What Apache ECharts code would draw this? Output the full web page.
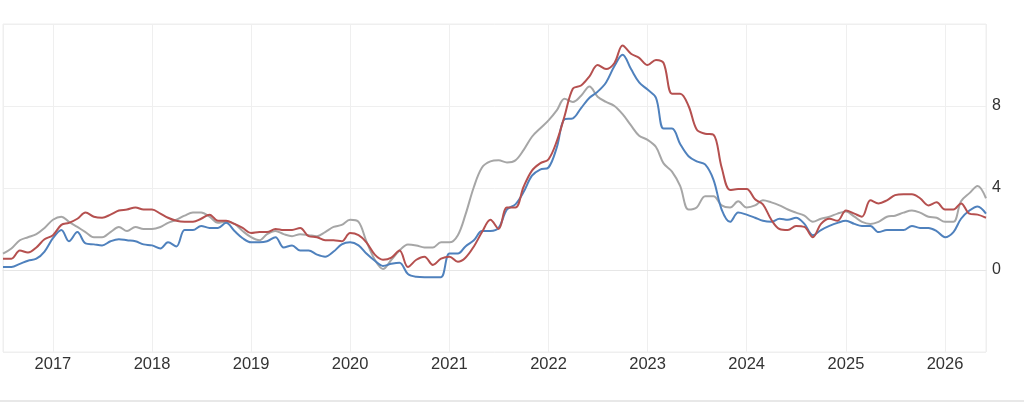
<!DOCTYPE html>
<html>
<head>
<meta charset="utf-8">
<script src="https://cdn.jsdelivr.net/npm/echarts@6/dist/echarts.min.js"></script>
<style>
html,body{margin:0;padding:0;background:#fff;}
#chart{width:1024px;height:403px;}
</style>
</head>
<body>
<div id="chart"></div>
<script>
// Monthly observations, July 2016 .. June 2026
var startYear = 2016, startMonth = 7;
var yTicks = [-4, 0, 4, 8, 12];

var blueSeries = [
  0.15, 0.15, 0.3, 0.45, 0.55, 0.9,
  1.55, 1.95, 1.4, 1.85, 1.3, 1.25, 1.2, 1.4, 1.5, 1.45, 1.4, 1.25,
  1.2, 1.05, 1.35, 1.15, 1.95, 1.95, 2.15, 2.05, 2.05, 2.3, 1.9, 1.55,
  1.35, 1.35, 1.4, 1.6, 1.1, 1.2, 0.95, 0.95, 0.75, 0.65, 0.9, 1.25,
  1.35, 1.2, 0.8, 0.45, 0.2, 0.3, 0.35, -0.2, -0.33, -0.35, -0.35, -0.35,
  0.8, 0.8, 1.15, 1.45, 1.9, 1.9, 2.05, 2.95, 3.2, 3.8, 4.6, 4.9,
  5.0, 6.0, 7.35, 7.4, 7.9, 8.4, 8.7, 9.15, 9.95, 10.5, 9.8, 9.15,
  8.8, 8.4, 6.9, 6.9, 6.15, 5.55, 5.3, 5.15, 4.4, 2.95, 2.35, 2.8,
  2.7, 2.55, 2.4, 2.35, 2.5, 2.45, 2.55, 2.25, 1.7, 1.95, 2.15, 2.3,
  2.4, 2.25, 2.15, 2.15, 1.85, 1.95, 1.95, 1.95, 2.15, 2.05, 2.05, 1.9,
  1.6, 1.85, 2.5, 2.9, 3.1, 2.75
];

var redSeries = [
  0.55, 0.55, 0.95, 0.85, 1.1, 1.5,
  1.7, 2.2, 2.3, 2.5, 2.8, 2.6, 2.55, 2.7, 2.9, 2.95, 3.05, 2.95,
  2.95, 2.75, 2.55, 2.4, 2.35, 2.35, 2.5, 2.7, 2.4, 2.4, 2.25, 2.05,
  1.8, 1.85, 1.85, 2.0, 1.95, 1.95, 2.05, 1.65, 1.6, 1.45, 1.45, 1.4,
  1.8, 1.7, 1.35, 0.75, 0.5, 0.6, 0.95, 0.15, 0.5, 0.65, 0.25, 0.55,
  0.65, 0.4, 0.6, 1.15, 1.85, 2.45, 2.0, 3.05, 3.05, 4.05, 4.85, 5.2,
  5.4, 6.3, 7.5, 8.85, 9.0, 9.45, 10.0, 9.8, 10.1, 10.95, 10.55, 10.35,
  10.0, 10.25, 10.1, 8.6, 8.6, 8.0, 6.85, 6.65, 6.6, 5.0, 3.9, 3.95,
  3.95, 3.45, 3.2, 2.45, 2.0, 1.95, 2.15, 2.1, 1.6, 2.25, 2.5, 2.4,
  2.9, 2.75, 2.6, 3.4, 3.25, 3.4, 3.65, 3.7, 3.7, 3.5, 3.15, 3.3,
  2.95, 2.95, 3.25, 2.75, 2.7, 2.55
];

var graySeries = [
  0.8, 1.05, 1.45, 1.6, 1.75, 2.05,
  2.45, 2.6, 2.35, 2.1, 1.85, 1.6, 1.6, 1.85, 2.1, 1.9, 2.1, 2.0,
  2.0, 2.1, 2.3, 2.45, 2.65, 2.8, 2.8, 2.6, 2.3, 2.35, 2.25, 1.9,
  1.6, 1.45, 1.75, 1.9, 1.75, 1.65, 1.75, 1.7, 1.65, 1.85, 2.1, 2.2,
  2.45, 2.35, 1.4, 0.5, 0.05, 0.5, 0.95, 1.25, 1.2, 1.1, 1.1, 1.35,
  1.35, 1.7, 2.7, 4.05, 5.0, 5.3, 5.35, 5.25, 5.35, 5.85, 6.5, 6.9,
  7.3, 7.8, 8.35, 8.2, 8.5, 8.95, 8.45, 8.2, 8.0, 7.6, 7.05, 6.55,
  6.35, 6.0, 5.2, 4.8, 4.1, 2.95, 3.05, 3.6, 3.6, 3.15, 3.05, 3.35,
  3.05, 3.15, 3.4, 3.3, 3.15, 2.95, 2.8, 2.65, 2.35, 2.5, 2.6, 2.75,
  2.85, 2.6, 2.35, 2.25, 2.35, 2.6, 2.65, 2.8, 2.9, 2.8, 2.6, 2.55,
  2.35, 2.35, 3.35, 3.75, 4.1, 3.5
];

function monthDate(i) {
  var y = startYear + Math.floor((startMonth - 1 + i) / 12);
  var m = (startMonth - 1 + i) % 12 + 1;
  return y + '-' + (m < 10 ? '0' + m : m) + '-01';
}
function pairs(arr) {
  return arr.map(function (v, i) { return [monthDate(i), v]; });
}

var chart = echarts.init(document.getElementById('chart'), null, {renderer: 'canvas'});
var YEAR = 365 * 24 * 3600 * 1000;
var lineCommon = {
  type: 'line',
  showSymbol: false,
  smooth: 0.35,
  animation: false,
  lineStyle: {width: 2}
};

chart.setOption({
  animation: false,
  backgroundColor: '#ffffff',
  grid: {
    left: 3, right: 38, top: 24, bottom: 51,
    show: true, borderColor: '#eeeeee', borderWidth: 1
  },
  xAxis: {
    type: 'time',
    min: monthDate(0),
    max: monthDate(blueSeries.length - 1),
    minInterval: YEAR,
    maxInterval: YEAR,
    axisLine: {show: true, lineStyle: {color: '#e6e6e6'}},
    axisTick: {show: false},
    splitLine: {show: true, lineStyle: {color: '#efefef', width: 1}},
    axisLabel: {
      formatter: '{yyyy}',
      color: '#333333',
      fontSize: 16.5,
      fontFamily: 'Arial, "Liberation Sans", sans-serif',
      margin: 4,
      showMinLabel: false,
      showMaxLabel: false
    }
  },
  yAxis: {
    type: 'value',
    position: 'right',
    min: yTicks[0],
    max: yTicks[yTicks.length - 1],
    interval: 4,
    axisLine: {show: false},
    axisTick: {show: false},
    splitLine: {show: true, lineStyle: {color: '#efefef', width: 1}},
    axisLabel: {
      color: '#333333',
      fontSize: 16,
      fontFamily: 'Arial, "Liberation Sans", sans-serif',
      margin: 6,
      verticalAlign: 'middle',
      padding: [0, 0, 5, 0],
      formatter: function (v) {
        return (v === yTicks[0] || v === yTicks[yTicks.length - 1]) ? '' : String(v);
      }
    }
  },
  graphic: [{
    type: 'rect',
    shape: {x: 0, y: 400, width: 1024, height: 2},
    style: {fill: '#e8e8e8'},
    silent: true
  }],
  series: [
    Object.assign({}, lineCommon, {name: 'gray', data: pairs(graySeries), itemStyle: {color: '#a6a6a6'}, lineStyle: {width: 2, color: '#a6a6a6'}}),
    Object.assign({}, lineCommon, {name: 'blue', data: pairs(blueSeries), itemStyle: {color: '#4f81bd'}, lineStyle: {width: 2, color: '#4f81bd'}}),
    Object.assign({}, lineCommon, {name: 'red', data: pairs(redSeries), itemStyle: {color: '#b5504f'}, lineStyle: {width: 2, color: '#b5504f'}})
  ]
});
</script>
</body>
</html>
